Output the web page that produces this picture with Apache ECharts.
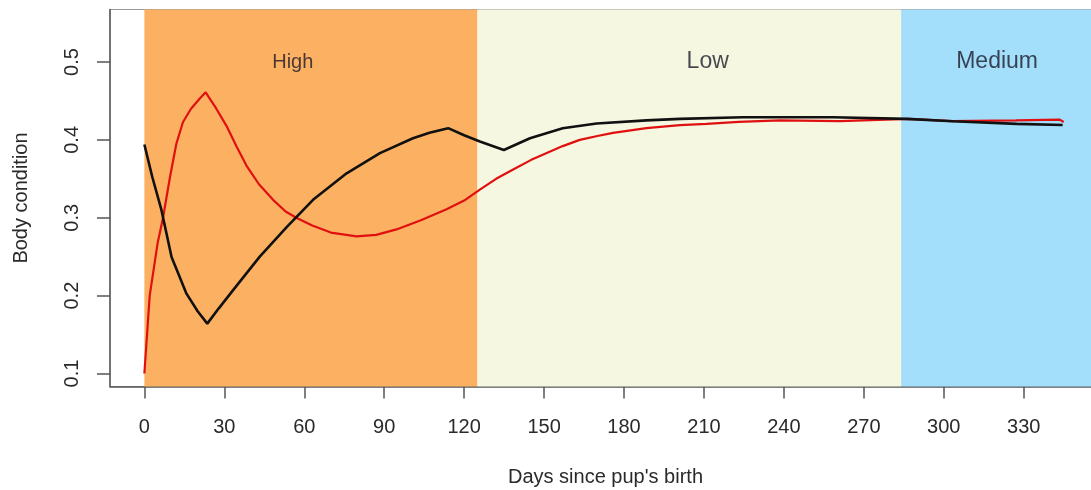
<!DOCTYPE html>
<html>
<head>
<meta charset="utf-8">
<script src="https://cdn.jsdelivr.net/npm/echarts@6/dist/echarts.min.js"></script>
<style>
  html, body { margin: 0; padding: 0; background: #ffffff; }
  #chart { width: 1091px; height: 490px; }
</style>
</head>
<body>
<div id="chart"></div>
<script>
// Body condition of mothers over the days since the pup's birth
const redDays = [0, 2, 5, 7, 9.6, 12, 14.5, 17.5, 20.8, 23, 27, 30.8, 34.5, 38.3, 43, 48.3, 53, 57, 63, 70, 79.6, 87, 94.6, 104, 113.4, 120, 125.9, 132, 138.4, 145, 151, 157, 163.4, 170, 175.9, 188.4, 201, 211, 223, 238.5, 261, 287, 303, 327, 343.5, 345];
const redVals = [0.100, 0.200, 0.268, 0.300, 0.352, 0.395, 0.423, 0.440, 0.453, 0.461, 0.440, 0.418, 0.392, 0.367, 0.343, 0.323, 0.308, 0.300, 0.290, 0.281, 0.276, 0.278, 0.285, 0.297, 0.311, 0.322, 0.336, 0.350, 0.362, 0.374, 0.383, 0.392, 0.400, 0.405, 0.409, 0.415, 0.419, 0.4205, 0.423, 0.425, 0.424, 0.427, 0.424, 0.425, 0.426, 0.423];

const blackDays = [0, 3, 6.4, 10.2, 15.8, 20, 23.6, 28, 33.3, 43.3, 53.4, 63.3, 75.9, 88.4, 100.8, 107, 114, 120, 125.9, 134.9, 144.7, 157, 169.7, 188.4, 201, 224.6, 258.4, 286, 303.4, 327.4, 344.6];
const blackVals = [0.394, 0.352, 0.310, 0.2495, 0.2025, 0.180, 0.164, 0.184, 0.207, 0.250, 0.288, 0.323, 0.357, 0.383, 0.402, 0.409, 0.415, 0.406, 0.398, 0.387, 0.402, 0.415, 0.421, 0.425, 0.427, 0.429, 0.429, 0.427, 0.424, 0.4205, 0.419];

// Resource periods shaded behind the curves
const periodNames = ['High', 'Low', 'Medium'];
const periodStart = [0, 125, 284];
const periodEnd = [125, 284, 359];
const periodColors = ['#fcb062', '#f5f7e1', '#a3defb'];
const periodLabelDay = [55.7, 211.4, 320];
const periodLabelVal = [0.5, 0.5, 0.5];
const periodLabelSize = [20, 23, 23];

const xTicks = [0, 30, 60, 90, 120, 150, 180, 210, 240, 270, 300, 330];
const yTicks = [0.1, 0.2, 0.3, 0.4, 0.5];

const font = '"Liberation Sans", Arial, sans-serif';

const chart = echarts.init(document.getElementById('chart'), null, { renderer: 'canvas' });

const zip = (xs, ys) => xs.map((x, i) => [x, ys[i]]);

chart.setOption({
  animation: false,
  backgroundColor: '#ffffff',
  grid: {
    left: 110, top: 9.5, width: 991, height: 377,
    outerBoundsMode: 'none',
    containLabel: false,
    show: true, borderColor: '#9a9a9a', borderWidth: 1, backgroundColor: 'transparent'
  },
  xAxis: {
    type: 'value',
    min: -12.9, max: 359,
    splitLine: { show: false },
    axisLine: { show: true, onZero: false, lineStyle: { color: '#555', width: 1.5 } },
    axisTick: { show: true, length: 12, customValues: xTicks, lineStyle: { color: '#555', width: 1.5 } },
    axisLabel: { customValues: xTicks, margin: 31, fontSize: 20, color: '#2a2a2a', fontFamily: font },
    name: "Days since pup's birth",
    nameLocation: 'middle',
    nameGap: 81,
    nameTextStyle: { fontSize: 20, color: '#2a2a2a', fontFamily: font }
  },
  yAxis: {
    type: 'value',
    min: 0.0833, max: 0.5674,
    splitLine: { show: false },
    axisLine: { show: true, onZero: false, lineStyle: { color: '#555', width: 1.5 } },
    axisTick: { show: true, length: 13, customValues: yTicks, lineStyle: { color: '#555', width: 1.5 } },
    axisLabel: {
      customValues: yTicks, rotate: 90, margin: 28, fontSize: 20, color: '#2a2a2a', fontFamily: font,
      formatter: v => v.toFixed(1)
    },
    name: 'Body condition',
    nameLocation: 'middle',
    nameGap: 79,
    nameRotate: 90,
    nameTextStyle: { fontSize: 20, color: '#2a2a2a', fontFamily: font }
  },
  series: [
    {
      name: 'periods',
      type: 'line',
      data: [],
      z: 1,
      silent: true,
      markArea: {
        silent: true,
        label: { show: false },
        data: periodNames.map((n, i) => [
          { xAxis: periodStart[i], itemStyle: { color: periodColors[i], opacity: 1 } },
          { xAxis: periodEnd[i] }
        ])
      }
    },
    {
      name: 'period labels',
      type: 'scatter',
      z: 3,
      symbolSize: 0,
      silent: true,
      data: periodNames.map((n, i) => ({
        value: [periodLabelDay[i], periodLabelVal[i]],
        label: {
          show: true, position: 'inside', formatter: n,
          fontSize: periodLabelSize[i], color: '#1a1a2a', fontFamily: font
        }
      }))
    },
    {
      name: 'red',
      type: 'line',
      z: 4,
      data: zip(redDays, redVals),
      showSymbol: false,
      smooth: false,
      lineStyle: { color: '#e01010', width: 2.2 }
    },
    {
      name: 'black',
      type: 'line',
      z: 5,
      data: zip(blackDays, blackVals),
      showSymbol: false,
      smooth: false,
      lineStyle: { color: '#111111', width: 2.6 }
    }
  ]
});
</script>
</body>
</html>
